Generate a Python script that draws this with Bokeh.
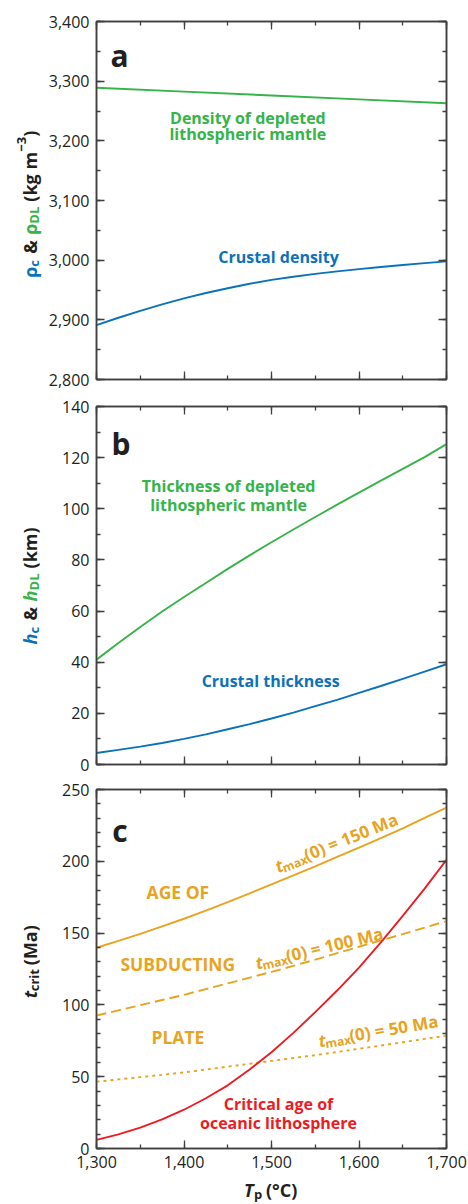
import math
from bokeh.plotting import figure
from bokeh.models import (Label, LinearAxis, SingleIntervalTicker,
                          NumeralTickFormatter, CustomJSTickFormatter)
from bokeh.layouts import column, row
from bokeh.embed import file_html
from bokeh.resources import INLINE

# ---------------- data ----------------
tp = [1300, 1325, 1350, 1375, 1400, 1425, 1450, 1475, 1500,
      1525, 1550, 1575, 1600, 1625, 1650, 1675, 1700]

# panel a: densities (kg m^-3)
rho_crust = [2891, 2903.5, 2915, 2926, 2936, 2945, 2953, 2960.5, 2967,
             2972.3, 2977, 2981.2, 2985, 2988.6, 2992, 2995, 2998]
tp_dl = [1300, 1400, 1500, 1600, 1700]
rho_dl = [3289, 3282.5, 3276, 3269.5, 3263]

# panel b: thicknesses (km)
h_crust = [4.5, 5.7, 7.0, 8.4, 10.0, 11.8, 13.8, 15.8, 18.0,
           20.3, 22.8, 25.3, 28.0, 30.7, 33.5, 36.3, 39.2]
h_dl = [41.0, 47.5, 53.8, 59.8, 65.5, 71.0, 76.5, 81.8, 86.9,
        91.9, 96.8, 101.6, 106.3, 111.0, 115.6, 120.2, 125.3]

# panel c: critical age and maximum subducting plate ages (Ma)
t_crit = [6.0, 9.8, 14.5, 20.3, 27.0, 35.0, 44.0, 55.0, 67.0,
          80.5, 95.0, 110.0, 126.0, 143.5, 162.0, 181.0, 201.0]
t150 = [139.8, 144.6, 149.5, 154.7, 160.0, 165.7, 171.5, 177.7, 184.0,
        190.2, 196.5, 203.0, 209.5, 216.2, 223.0, 230.2, 237.4]
t100 = [92.6, 96.2, 99.8, 103.4, 107.0, 111.0, 115.0, 119.0, 123.0,
        127.2, 131.5, 136.0, 140.5, 144.9, 149.3, 153.8, 158.4]
t50 = [46.5, 48.1, 49.7, 51.3, 53.0, 55.0, 57.0, 59.0, 61.0,
       63.0, 65.0, 67.2, 69.5, 71.7, 74.0, 76.3, 78.6]

# ---------------- style ----------------
FONT = "Open Sans"
AX = "#3f3f3f"
BLUE = "#0b72ba"
GREEN = "#36b44a"
ORANGE = "#e8a31f"
RED = "#ec1c24"
BLACK = "#231f20"
LW = 1.9

W = 468
SW = 44                 # width of the strip holding the y-axis titles
LEFT, RIGHT = 96 - SW, 22
BLANK = CustomJSTickFormatter(code="return ''")


def style_axis(ax, show_labels):
    ax.axis_line_color = AX
    ax.axis_line_width = 1.5
    ax.major_tick_line_color = AX
    ax.minor_tick_line_color = AX
    ax.major_tick_line_width = 1.3
    ax.minor_tick_line_width = 1.3
    ax.major_tick_in = 8
    ax.major_tick_out = 0
    ax.minor_tick_in = 4
    ax.minor_tick_out = 0
    if show_labels:
        ax.major_label_standoff = 7
        ax.major_label_text_font = FONT
        ax.major_label_text_font_size = "16px"
        ax.major_label_text_color = BLACK
    else:
        ax.formatter = BLANK
        ax.major_label_standoff = 0


def panel(height, top, bottom, yr, yint, yminor, xlabels):
    p = figure(width=W - SW, height=height, x_range=(1300, 1700), y_range=yr,
               min_border_left=LEFT, min_border_right=RIGHT,
               min_border_top=top, min_border_bottom=bottom,
               output_backend="svg", toolbar_location=None)
    p.grid.visible = False
    p.outline_line_color = AX
    p.outline_line_width = 1.5
    fmt = NumeralTickFormatter(format="0,0")
    xt = SingleIntervalTicker(interval=100, num_minor_ticks=2)
    yt = SingleIntervalTicker(interval=yint, num_minor_ticks=yminor)
    p.xaxis.ticker = xt
    p.yaxis.ticker = yt
    p.xaxis.formatter = fmt
    p.yaxis.formatter = fmt
    style_axis(p.xaxis[0], xlabels)
    style_axis(p.yaxis[0], True)
    top_ax = LinearAxis(ticker=xt)
    right_ax = LinearAxis(ticker=yt)
    style_axis(top_ax, False)
    style_axis(right_ax, False)
    p.add_layout(top_ax, "above")
    p.add_layout(right_ax, "right")
    return p


def strip(width, height):
    """Bare canvas (1 data unit = 1 px) that carries axis titles."""
    s = figure(width=width, height=height, x_range=(0, width),
               y_range=(0, height), min_border=0,
               x_axis_location=None, y_axis_location=None,
               output_backend="svg", toolbar_location=None)
    s.grid.visible = False
    s.outline_line_color = None
    return s


def label(p, x, y, text, color, size=16, style="bold", align="center",
          baseline="middle"):
    p.add_layout(Label(x=x, y=y, text=text, text_font=FONT,
                       text_font_size=f"{size}px", text_font_style=style,
                       text_color=color, text_align=align,
                       text_baseline=baseline))


def rich(p, x, y, pieces, angle=0.0, start=None):
    """Draw a run of text pieces along a (possibly rotated) baseline.

    pieces: (text, size, color, style, shift, advance); shift > 0 moves
    the piece below the baseline (subscript), < 0 above (superscript).
    With start=None the run is centred on (x, y).
    """
    if start is None:
        start = -sum(pc[5] for pc in pieces) / 2
    ca, sa = math.cos(angle), math.sin(angle)
    d = start
    for text, size, color, style, shift, adv in pieces:
        dx = d * ca + shift * sa
        dy = d * sa - shift * ca
        p.add_layout(Label(x=x, y=y, x_offset=dx, y_offset=dy,
                           text=text, angle=angle, text_font=FONT,
                           text_font_size=f"{size}px",
                           text_font_style=style, text_color=color,
                           text_align="left", text_baseline="alphabetic"))
        d += adv


VERT = math.pi / 2
B, BI = "bold", "bold italic"

# ---------------- panel a ----------------
pa = panel(392, 21, 13, (2800, 3400), 100, 2, False)
pa.line(tp_dl, rho_dl, line_color=GREEN, line_width=LW)
pa.line(tp, rho_crust, line_color=BLUE, line_width=LW)
label(pa, 1316, 3343, "a", BLACK, size=30, align="left", baseline="alphabetic")
label(pa, 1473, 3239, "Density of depleted", GREEN)
label(pa, 1473, 3211, "lithospheric mantle", GREEN)
label(pa, 1508, 3005, "Crustal density", BLUE)

sa_ = strip(SW, 392)
rich(sa_, 29, 192, [("ρ", 18, BLUE, B, 0, 11), ("c", 13, BLUE, B, 4, 13),
                    ("&", 18, BLACK, B, 0, 19), ("ρ", 18, GREEN, B, 0, 11),
                    ("DL", 13, GREEN, B, 4, 22), ("(kg m", 18, BLACK, B, 0, 50),
                    ("−3", 13, BLACK, B, -8, 15), (")", 18, BLACK, B, 0, 6)],
     angle=VERT)

# ---------------- panel b ----------------
pb = panel(384, 14, 12, (0, 140), 20, 2, False)
pb.line(tp, h_dl, line_color=GREEN, line_width=LW)
pb.line(tp, h_crust, line_color=BLUE, line_width=LW)
label(pb, 1317, 125.7, "b", BLACK, size=30, align="left", baseline="alphabetic")
label(pb, 1451, 109, "Thickness of depleted", GREEN)
label(pb, 1451, 101.5, "lithospheric mantle", GREEN)
label(pb, 1499, 32.8, "Crustal thickness", BLUE)

sb_ = strip(SW, 384)
rich(sb_, 29, 191, [("h", 18, BLUE, BI, 0, 11), ("c", 13, BLUE, B, 4, 13),
                    ("&", 18, BLACK, B, 0, 19), ("h", 18, GREEN, BI, 0, 11),
                    ("DL", 13, GREEN, B, 4, 22), ("(km)", 18, BLACK, B, 0, 40)],
     angle=VERT)

# ---------------- panel c ----------------
pc = panel(400, 13, 28, (0, 250), 50, 5, True)
pc.line(tp, t150, line_color=ORANGE, line_width=LW)
pc.line(tp, t100, line_color=ORANGE, line_width=LW, line_dash="10 5")
pc.line(tp, t50, line_color=ORANGE, line_width=LW, line_dash="3 4")
pc.line(tp, t_crit, line_color=RED, line_width=LW)
label(pc, 1318, 221.6, "c", BLACK, size=30, align="left", baseline="alphabetic")
label(pc, 1393, 178.4, "AGE OF", ORANGE, size=17.5)
label(pc, 1393, 128.8, "SUBDUCTING", ORANGE, size=17.5)
label(pc, 1393, 77.9, "PLATE", ORANGE, size=17.5)
label(pc, 1508, 31.2, "Critical age of", RED)
label(pc, 1508, 17.9, "oceanic lithosphere", RED)


def tmax(value):
    return [("t", 17, ORANGE, BI, 0, 6),
            ("max", 12, ORANGE, B, 4, 25),
            (f"(0) = {value} Ma", 17, ORANGE, B, 0, 0)]


rich(pc, 1505, 196, tmax(150), angle=math.radians(22), start=0)
rich(pc, 1482, 129, tmax(100), angle=math.radians(13.5), start=0)
rich(pc, 1554, 75, tmax(50), angle=math.radians(9.6), start=0)

sc_ = strip(SW, 400)
rich(sc_, 29, 207, [("t", 18, BLACK, BI, 0, 7), ("crit", 13, BLACK, B, 4, 26),
                    ("(Ma)", 18, BLACK, B, 0, 38)],
     angle=VERT)

# x-axis title strip under panel c
sx_ = strip(W, 28)
rich(sx_, 270, 15, [("T", 18, BLACK, BI, 0, 10), ("p", 13, BLACK, B, 4, 12),
                    ("(°C)", 18, BLACK, B, 0, 31)])

layout = column(row(sa_, pa, spacing=0), row(sb_, pb, spacing=0),
                row(sc_, pc, spacing=0), sx_, spacing=0)
open("out.html", "w").write(file_html(layout, INLINE))
